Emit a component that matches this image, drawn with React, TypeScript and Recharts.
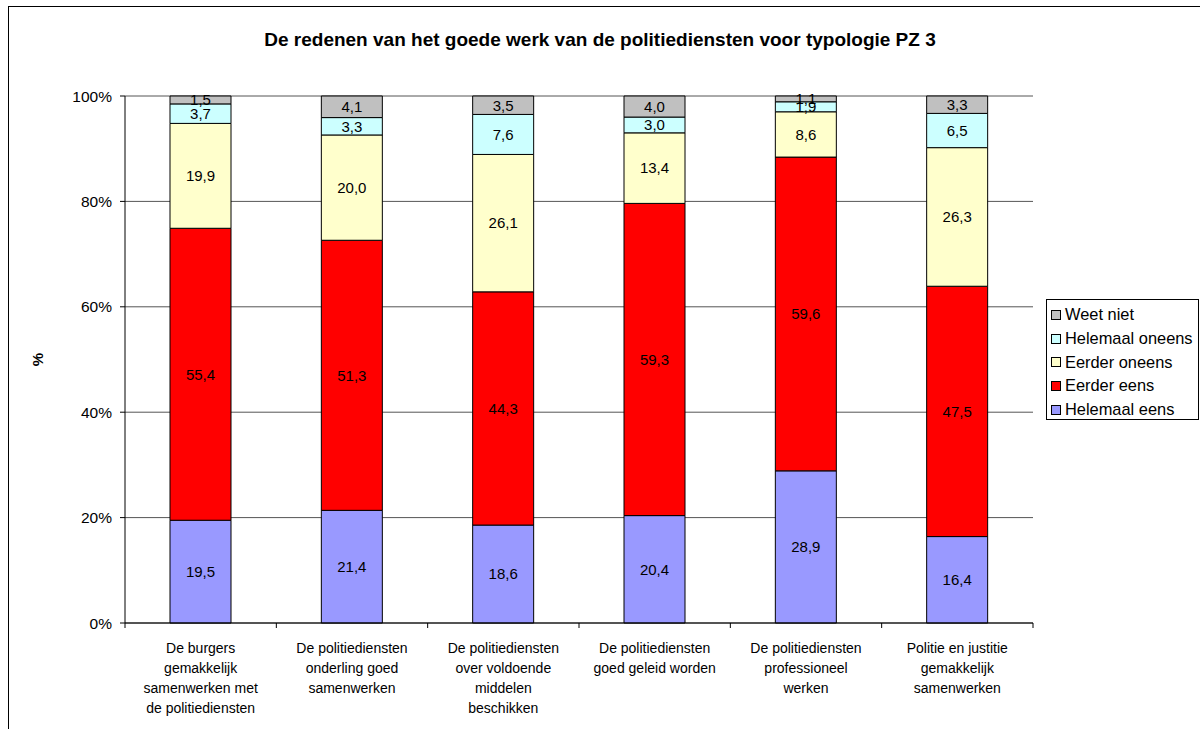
import React from 'react';
import {BarChart, Bar, XAxis, YAxis, CartesianGrid, LabelList} from 'recharts';

// Categorieën (volledige tekst) en hoe ze onder de as afgebroken worden
const categories = [
  'De burgers gemakkelijk samenwerken met de politiediensten',
  'De politiediensten onderling goed samenwerken',
  'De politiediensten over voldoende middelen beschikken',
  'De politiediensten goed geleid worden',
  'De politiediensten professioneel werken',
  'Politie en justitie gemakkelijk samenwerken',
];
const tickLines = [
  ['De burgers', 'gemakkelijk', 'samenwerken met', 'de politiediensten'],
  ['De politiediensten', 'onderling goed', 'samenwerken'],
  ['De politiediensten', 'over voldoende', 'middelen', 'beschikken'],
  ['De politiediensten', 'goed geleid worden'],
  ['De politiediensten', 'professioneel', 'werken'],
  ['Politie en justitie', 'gemakkelijk', 'samenwerken'],
];

// Waarden per reeks (%)
const helemaalEens = [19.5, 21.4, 18.6, 20.4, 28.9, 16.4];
const eerderEens = [55.4, 51.3, 44.3, 59.3, 59.6, 47.5];
const eerderOneens = [19.9, 20.0, 26.1, 13.4, 8.6, 26.3];
const helemaalOneens = [3.7, 3.3, 7.6, 3.0, 1.9, 6.5];
const weetNiet = [1.5, 4.1, 3.5, 4.0, 1.1, 3.3];

const yTicks = [0, 0.2, 0.4, 0.6, 0.8, 1];

const series = [
  {key: 'helemaalEens', name: 'Helemaal eens', color: '#9999FF', values: helemaalEens},
  {key: 'eerderEens', name: 'Eerder eens', color: '#FF0000', values: eerderEens},
  {key: 'eerderOneens', name: 'Eerder oneens', color: '#FFFFCC', values: eerderOneens},
  {key: 'helemaalOneens', name: 'Helemaal oneens', color: '#CCFFFF', values: helemaalOneens},
  {key: 'weetNiet', name: 'Weet niet', color: '#C0C0C0', values: weetNiet},
];

const data = categories.map((name, i) => {
  const row: Record<string, string | number> = {name};
  series.forEach((s) => {
    row[s.key] = s.values[i];
  });
  return row;
});

const FONT = 'Arial, "Liberation Sans", sans-serif';
const PLOT_W = 908;

const fmt = (v: any) => Number(v).toFixed(1).replace('.', ',');

const CategoryTick = (props: any) => {
  const {x, y, payload, index} = props;
  const band = PLOT_W / categories.length;
  const lines = tickLines[index] || [payload.value];
  return (
    <g>
      <line x1={x + band / 2} y1={y} x2={x + band / 2} y2={y + 5} stroke='#000' />
      {index === 0 && <line x1={x - band / 2} y1={y} x2={x - band / 2} y2={y + 5} stroke='#000' />}
      <text x={x} y={y} textAnchor='middle' fontSize={14} fontFamily={FONT} fill='#000'>
        {lines.map((l: string, i: number) => (
          <tspan key={i} x={x} y={y + 30 + i * 20}>
            {l}
          </tspan>
        ))}
      </text>
    </g>
  );
};

export default function App() {
  return (
    <div
      style={{
        position: 'absolute',
        left: 8,
        top: 6,
        width: 1192,
        height: 723,
        boxSizing: 'border-box',
        borderTop: '1px solid #000',
        borderLeft: '1px solid #000',
        fontFamily: FONT,
        background: '#fff',
      }}
    >
      <div
        style={{
          position: 'absolute',
          left: 0,
          width: 1182,
          top: 22,
          textAlign: 'center',
          fontWeight: 'bold',
          fontSize: 19,
        }}
      >
        De redenen van het goede werk van de politiediensten voor typologie PZ 3
      </div>

      <BarChart
        width={1191}
        height={722}
        data={data}
        stackOffset='expand'
        margin={{top: 89, right: 167, bottom: 6, left: 26}}
      >
        <CartesianGrid horizontal vertical={false} stroke='#555' />
        <XAxis
          dataKey='name'
          interval={0}
          height={100}
          tickSize={0}
          tickMargin={0}
          tickLine={false}
          axisLine={{stroke: '#000'}}
          tick={<CategoryTick />}
        />
        <YAxis
          width={90}
          domain={[0, 1]}
          ticks={yTicks}
          tickSize={5}
          tickMargin={8}
          tickLine={{stroke: '#000'}}
          axisLine={{stroke: '#000'}}
          tickFormatter={(v: number) => `${Math.round(v * 100)}%`}
          tick={{fill: '#000', fontSize: 15.5, fontFamily: FONT}}
          label={{
            content: (p: any) => {
              const vb = p.viewBox;
              const cx = vb.x + 8;
              const cy = vb.y + vb.height / 2;
              return (
                <text
                  x={cx}
                  y={cy}
                  transform={`rotate(-90, ${cx}, ${cy})`}
                  textAnchor='middle'
                  fontWeight='bold'
                  fontSize={15}
                  fontFamily={FONT}
                  fill='#000'
                >
                  %
                </text>
              );
            },
          }}
        />
        {series.map((s) => (
          <Bar
            key={s.key}
            dataKey={s.key}
            name={s.name}
            stackId='a'
            fill={s.color}
            stroke='#000'
            strokeWidth={1}
            barSize={61}
            isAnimationActive={false}
          >
            <LabelList
              dataKey={s.key}
              position='center'
              formatter={fmt}
              fill='#000'
              fontSize={15}
              fontFamily={FONT}
            />
          </Bar>
        ))}
      </BarChart>

      <div
        style={{
          position: 'absolute',
          left: 1037,
          top: 292,
          width: 153,
          height: 121,
          border: '1px solid #000',
          boxSizing: 'border-box',
          padding: '3px 0 0 4px',
          background: '#fff',
        }}
      >
        {[...series].reverse().map((s) => (
          <div key={s.key} style={{display: 'flex', alignItems: 'center', height: 23.7, fontSize: 16.4, whiteSpace: 'nowrap'}}>
            <span
              style={{
                display: 'inline-block',
                width: 8,
                height: 8,
                background: s.color,
                border: '1px solid #000',
                marginRight: 4,
              }}
            />
            {s.name}
          </div>
        ))}
      </div>
    </div>
  );
}
